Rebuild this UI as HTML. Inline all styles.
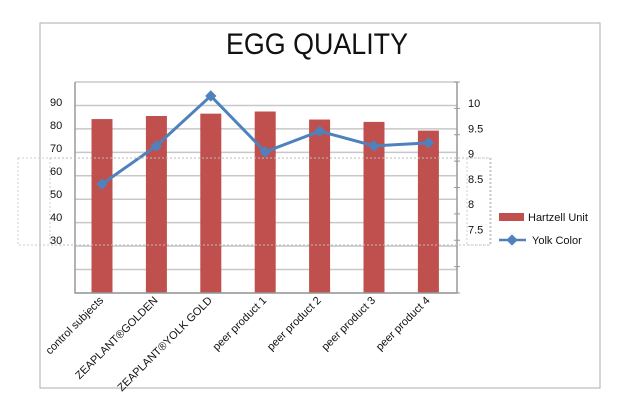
<!DOCTYPE html>
<html><head><meta charset="utf-8"><style>
body{margin:0;background:#fff;}
svg{display:block;font-family:"Liberation Sans",sans-serif;}
</style></head><body>
<svg id="chart" width="634" height="410" viewBox="0 0 634 410">
<rect x="40" y="23" width="560" height="365" fill="#fff" stroke="#bbb" stroke-width="1.2"/>
<text x="317" y="54" font-size="30" text-anchor="middle" textLength="182" lengthAdjust="spacingAndGlyphs" fill="#111">EGG QUALITY</text>
<g id="grid"></g>
<g id="bars"></g>
<g id="line"></g>
<g id="axes"></g>
<g id="labels"></g>
<rect x="18" y="158" width="472" height="87" fill="none" stroke="#bbb" stroke-dasharray="2,2"/>
<rect x="18" y="158" width="32" height="87" fill="none" stroke="#ccc" stroke-dasharray="2,2"/>
<rect x="467" y="158" width="24" height="87" fill="none" stroke="#ccc" stroke-dasharray="2,2"/>
<g>
<rect x="499" y="213" width="25" height="8" fill="#c0504d"/>
<text x="528" y="221" font-size="11" fill="#111">Hartzell Unit</text>
<line x1="499" y1="240" x2="526" y2="240" stroke="#4f81bd" stroke-width="2.5"/>
<rect x="508" y="236" width="8" height="8" fill="#4f81bd" transform="rotate(45 512 240)"/>
<text x="532" y="244" font-size="11" fill="#111">Yolk Color</text>
</g>
</svg>
<script>
const categories=["control subjects","ZEAPLANT®GOLDEN","ZEAPLANT®YOLK GOLD","peer product 1","peer product  2","peer product 3","peer product 4"];
const hartzell=[73.7,75,76,76.9,73.5,72.5,68.8];
const yolk=[8.39,9.15,10.14,9.03,9.44,9.15,9.21];
const leftTicks=["90","80","70","60","50","40","30"];
const rightTicks=["10","9.5","9","8.5","8","7.5"];
const NS="http://www.w3.org/2000/svg";
const X0=75,X1=457,YT=82,YB=293;
const xScale=i=>X0+27+i*54.4;
const yLeft=v=>YB-v*2.36;
const yRight=v=>103+(10-v)*50.4;
function mk(tag,attrs,parent){const e=document.createElementNS(NS,tag);for(const k in attrs)e.setAttribute(k,attrs[k]);parent.appendChild(e);return e;}
const grid=document.getElementById('grid'),bars=document.getElementById('bars'),line=document.getElementById('line'),axes=document.getElementById('axes'),labels=document.getElementById('labels');
for(let i=0;i<=9;i++){const y=YT+(YB-YT)*i/9;const l=mk('line',{x1:X0,x2:X1,y1:y,y2:y,stroke:'#c8c8c8','stroke-width':1.5},grid);

}
categories.forEach((c,i)=>{const x=xScale(i);const y=yLeft(hartzell[i]);
const b=mk('rect',{x:x-10.5,y:y,width:21,height:YB-y,fill:'#c0504d'},bars);


const t=mk('text',{x:x+2,y:YB+8,'font-size':11,'text-anchor':'end',fill:'#111',transform:`rotate(-45 ${x+2} ${YB+8})`},labels);
t.textContent=c;

});
const pts=yolk.map((v,i)=>xScale(i)+','+yRight(v)).join(' ');
const pl=mk('polyline',{points:pts,fill:'none',stroke:'#4f81bd','stroke-width':3},line);


yolk.forEach((v,i)=>{const x=xScale(i),y=yRight(v);const m=mk('rect',{x:x-4,y:y-4,width:8,height:8,fill:'#4f81bd',transform:`rotate(45 ${x} ${y})`},line);

});
const ax=mk('path',{d:`M${X0} ${YT}V${YB}H${X1}V${YT}`,fill:'none',stroke:'#999','stroke-width':1.5},axes);


for(let i=0;i<=8;i++){const y=YT+(YB-YT)*i/8;const tk=mk('line',{x1:X1-3,x2:X1+3,y1:y,y2:y,stroke:'#999'},axes);

}
leftTicks.forEach((t,i)=>{const e=mk('text',{x:50,y:106+i*23,'font-size':11,fill:'#111'},labels);e.textContent=t;

});
rightTicks.forEach((t,i)=>{const e=mk('text',{x:468,y:107+i*25.3,'font-size':11,fill:'#111'},labels);e.textContent=t;

});
</script>
</body></html>
